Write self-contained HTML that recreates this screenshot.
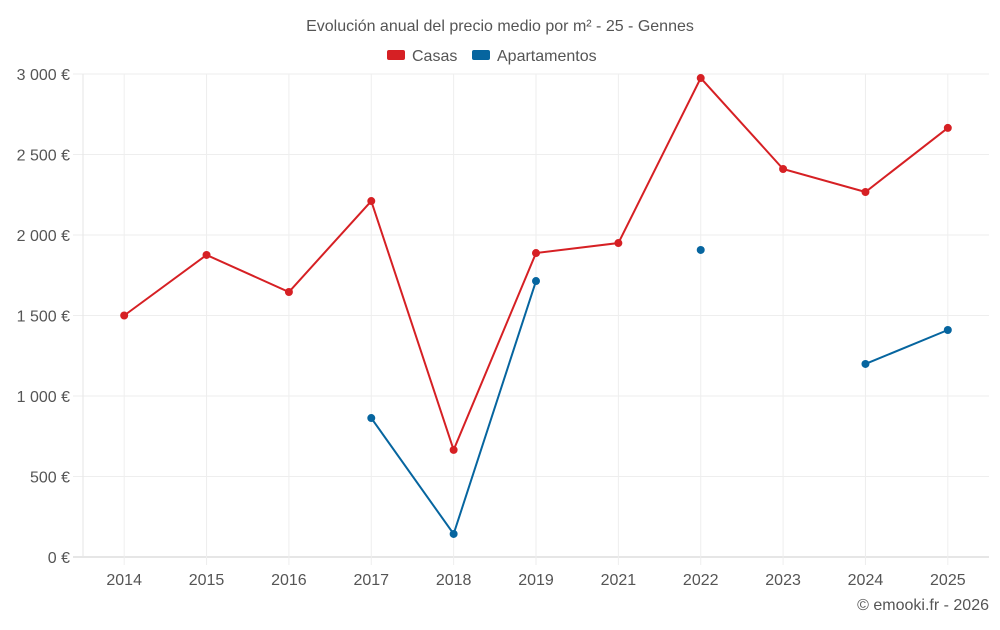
<!DOCTYPE html>
<html><head><meta charset="utf-8"><style>
body{margin:0;background:#fff;font-family:"Liberation Sans",sans-serif;}
svg text{font-family:"Liberation Sans",sans-serif;fill:#555;}
</style></head><body>
<svg id="chart" width="1000" height="625" xmlns="http://www.w3.org/2000/svg">
<text x="500" y="31" text-anchor="middle" font-size="16">Evolución anual del precio medio por m² - 25 - Gennes</text>
<g><rect x="387" y="50" width="18" height="10" rx="2" fill="#d62024"/><text x="412" y="61" font-size="16">Casas</text></g>
<g><rect x="472" y="50" width="18" height="10" rx="2" fill="#06659f"/><text x="497" y="61" font-size="16">Apartamentos</text></g>
<g id="grid"></g><g id="axes"></g><g id="series"></g>
<text x="989" y="610" text-anchor="end" font-size="16">© emooki.fr - 2026</text>
</svg>
<script>
const categories=["2014","2015","2016","2017","2018","2019","2021","2022","2023","2024","2025"];
const casas=[1500,1876,1646,2211,665,1888,1950,2975,2410,2267,2665];
const apartamentos=[null,null,null,863,143,1714,null,1907,null,1199,1410];
const yTicks=[0,500,1000,1500,2000,2500,3000];
const yTickLabels=["0 €","500 €","1 000 €","1 500 €","2 000 €","2 500 €","3 000 €"];
const L=83,R=989,T=74,B=557,yMax=3000;
const bw=(R-L)/categories.length;
const x=i=>L+bw*(i+0.5);
const y=v=>B-(v/yMax)*(B-T);
const NS="http://www.w3.org/2000/svg";
function mk(tag,attrs,parent){const e=document.createElementNS(NS,tag);for(const k in attrs)e.setAttribute(k,attrs[k]);parent.appendChild(e);return e;}
const grid=document.getElementById('grid'),axes=document.getElementById('axes'),series=document.getElementById('series');
yTicks.forEach((t,i)=>{
 const l=mk('line',{x1:L-10,x2:R,y1:y(t),y2:y(t),stroke:i==0?'#ccc':'#eee'},grid);
 
 
 const tx=mk('text',{x:70,y:y(t)+6,'text-anchor':'end','font-size':16},axes);
 tx.textContent=yTickLabels[i];
 
 
});
const ax=mk('line',{x1:L,x2:L,y1:T,y2:B,stroke:'#e6e6e6'},grid);


categories.forEach((c,i)=>{
 const l=mk('line',{x1:x(i),x2:x(i),y1:T,y2:B+8,stroke:'#eee'},grid);
 
 
 const tx=mk('text',{x:x(i),y:585,'text-anchor':'middle','font-size':16},axes);
 tx.textContent=c;
 
 
});
function draw(data,color,name){
 let seg=[];const segs=[];
 data.forEach((v,i)=>{if(v==null){if(seg.length)segs.push(seg);seg=[];}else seg.push([x(i),y(v)]);});
 if(seg.length)segs.push(seg);
 segs.forEach(s=>{if(s.length>1){const p=mk('polyline',{points:s.map(q=>q.join(',')).join(' '),fill:'none',stroke:color,'stroke-width':2},series);
  
  }});
 data.forEach((v,i)=>{if(v==null)return;const c=mk('circle',{cx:x(i),cy:y(v),r:4,fill:color},series);
  
  });
}
draw(casas,'#d62024','casas');
draw(apartamentos,'#06659f','apartamentos');
</script>
</body></html>
